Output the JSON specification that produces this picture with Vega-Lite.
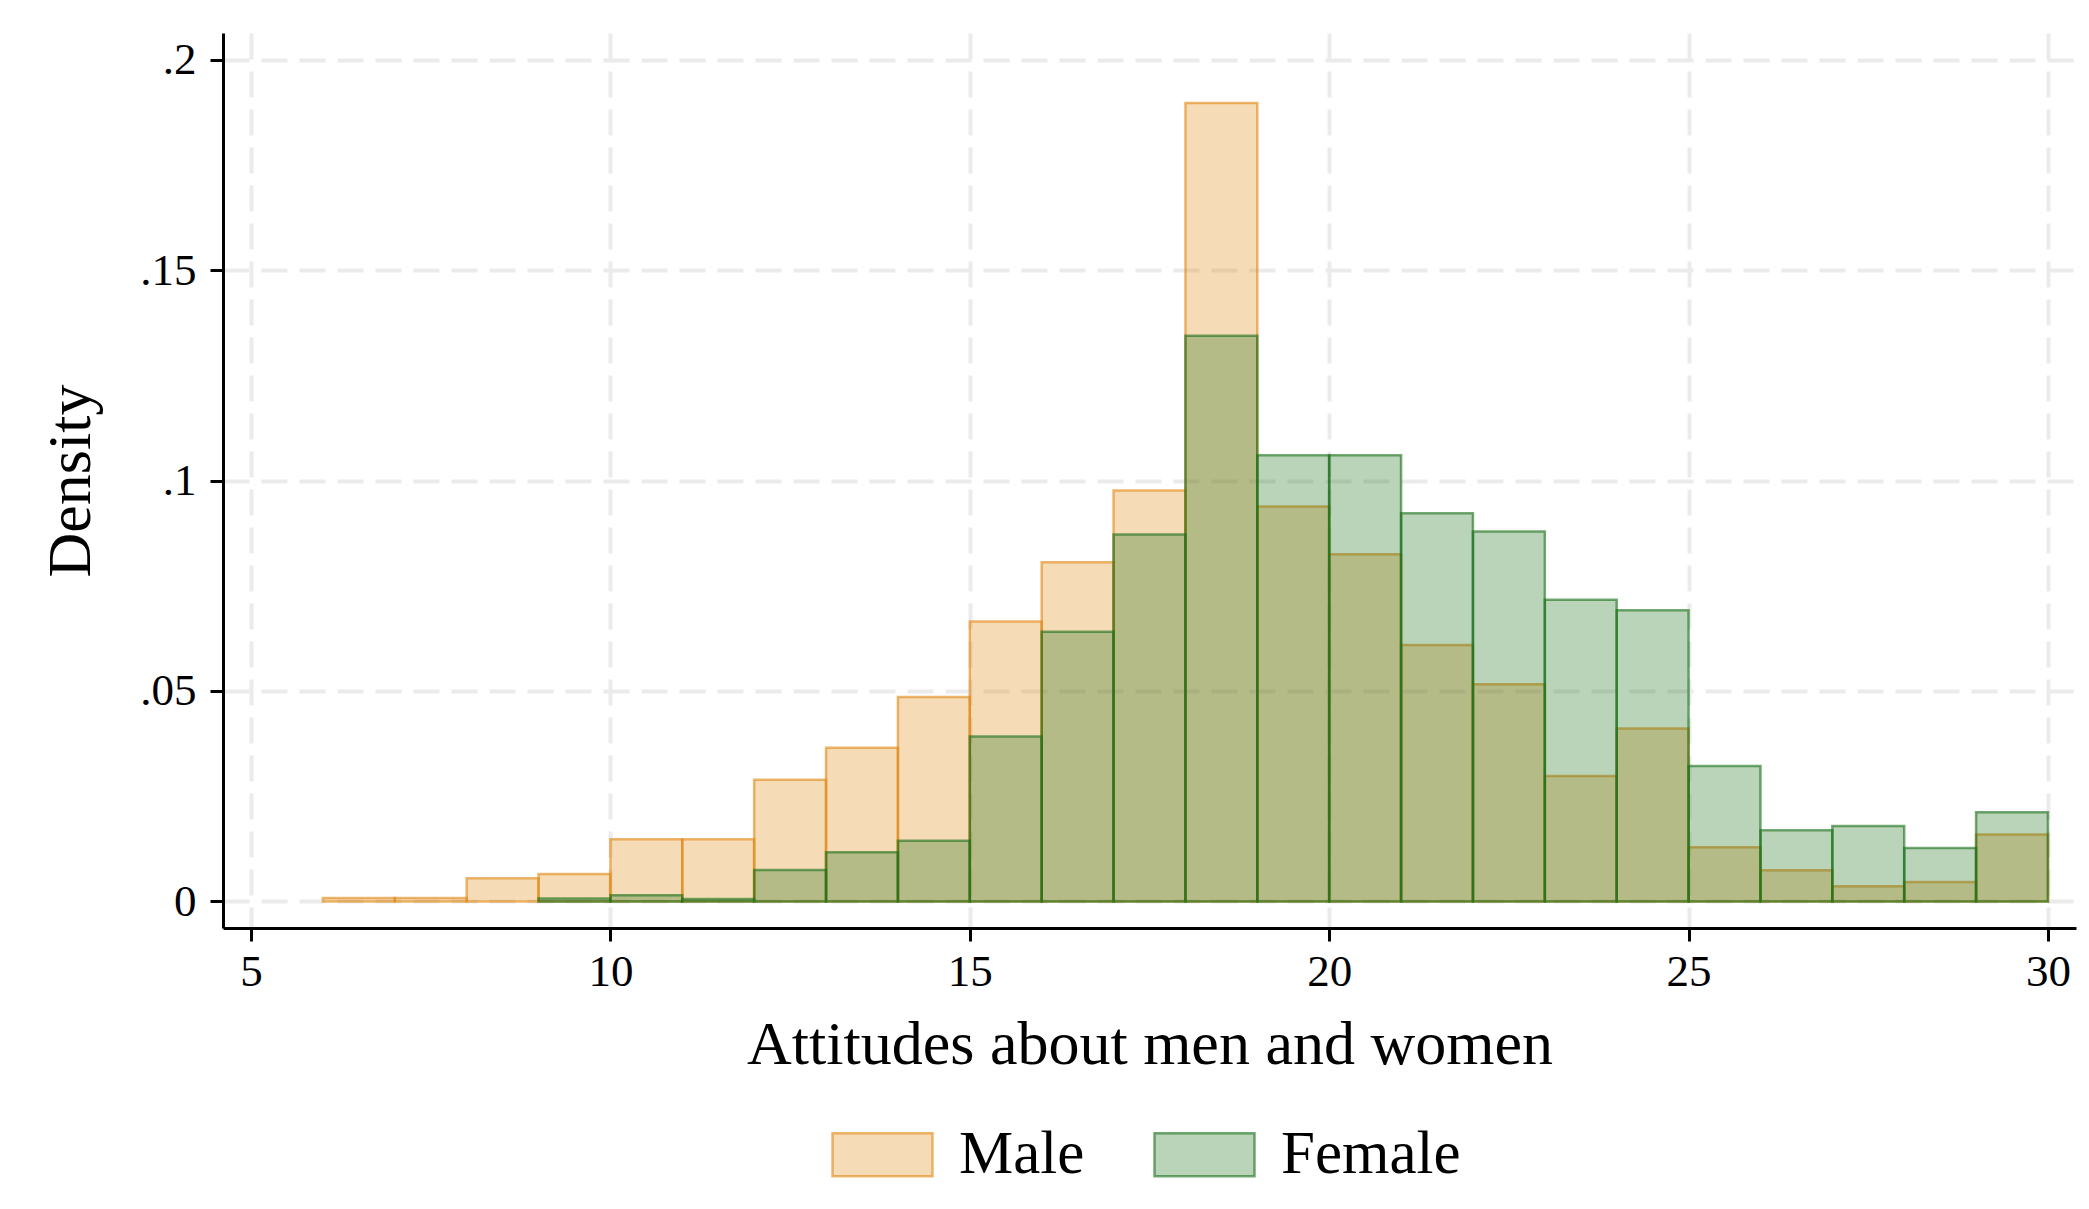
{
  "$schema": "https://vega.github.io/schema/vega-lite/v6.json",
  "autosize": {"type": "none"},
  "width": 1853,
  "height": 895,
  "padding": {"left": 223, "top": 33, "right": 13, "bottom": 281},
  "background": "white",
  "config": {
    "view": {"stroke": null},
    "font": "Liberation Serif",
    "axis": {
      "labelFont": "Liberation Serif",
      "titleFont": "Liberation Serif",
      "labelColor": "black",
      "titleColor": "black",
      "labelFontSize": 45,
      "titleFontSize": 62,
      "titleFontWeight": "normal",
      "domainColor": "black",
      "domainWidth": 3,
      "tickColor": "black",
      "tickWidth": 3,
      "tickSize": 13,
      "gridColor": "#EBEBEB",
      "gridWidth": 4,
      "gridDash": [26, 12]
    },
    "legend": {
      "labelFont": "Liberation Serif",
      "labelFontSize": 61,
      "labelColor": "black",
      "labelLimit": 0
    }
  },
  "data": {
    "values": [
      {"sex": "Male", "start": 6, "end": 7, "density": 0.0008},
      {"sex": "Male", "start": 7, "end": 8, "density": 0.0008},
      {"sex": "Male", "start": 8, "end": 9, "density": 0.0055},
      {"sex": "Male", "start": 9, "end": 10, "density": 0.0065},
      {"sex": "Male", "start": 10, "end": 11, "density": 0.0148},
      {"sex": "Male", "start": 11, "end": 12, "density": 0.0148},
      {"sex": "Male", "start": 12, "end": 13, "density": 0.0289},
      {"sex": "Male", "start": 13, "end": 14, "density": 0.0365},
      {"sex": "Male", "start": 14, "end": 15, "density": 0.0486},
      {"sex": "Male", "start": 15, "end": 16, "density": 0.0665},
      {"sex": "Male", "start": 16, "end": 17, "density": 0.0806},
      {"sex": "Male", "start": 17, "end": 18, "density": 0.0976},
      {"sex": "Male", "start": 18, "end": 19, "density": 0.1897},
      {"sex": "Male", "start": 19, "end": 20, "density": 0.0938},
      {"sex": "Male", "start": 20, "end": 21, "density": 0.0825},
      {"sex": "Male", "start": 21, "end": 22, "density": 0.0609},
      {"sex": "Male", "start": 22, "end": 23, "density": 0.0516},
      {"sex": "Male", "start": 23, "end": 24, "density": 0.0298},
      {"sex": "Male", "start": 24, "end": 25, "density": 0.0411},
      {"sex": "Male", "start": 25, "end": 26, "density": 0.0129},
      {"sex": "Male", "start": 26, "end": 27, "density": 0.0074},
      {"sex": "Male", "start": 27, "end": 28, "density": 0.0036},
      {"sex": "Male", "start": 28, "end": 29, "density": 0.0046},
      {"sex": "Male", "start": 29, "end": 30, "density": 0.0159},
      {"sex": "Female", "start": 9, "end": 10, "density": 0.0007},
      {"sex": "Female", "start": 10, "end": 11, "density": 0.0015},
      {"sex": "Female", "start": 11, "end": 12, "density": 0.0006},
      {"sex": "Female", "start": 12, "end": 13, "density": 0.0075},
      {"sex": "Female", "start": 13, "end": 14, "density": 0.0117},
      {"sex": "Female", "start": 14, "end": 15, "density": 0.0144},
      {"sex": "Female", "start": 15, "end": 16, "density": 0.0392},
      {"sex": "Female", "start": 16, "end": 17, "density": 0.0641},
      {"sex": "Female", "start": 17, "end": 18, "density": 0.0872},
      {"sex": "Female", "start": 18, "end": 19, "density": 0.1344},
      {"sex": "Female", "start": 19, "end": 20, "density": 0.106},
      {"sex": "Female", "start": 20, "end": 21, "density": 0.106},
      {"sex": "Female", "start": 21, "end": 22, "density": 0.0922},
      {"sex": "Female", "start": 22, "end": 23, "density": 0.0879},
      {"sex": "Female", "start": 23, "end": 24, "density": 0.0717},
      {"sex": "Female", "start": 24, "end": 25, "density": 0.0692},
      {"sex": "Female", "start": 25, "end": 26, "density": 0.0322},
      {"sex": "Female", "start": 26, "end": 27, "density": 0.0169},
      {"sex": "Female", "start": 27, "end": 28, "density": 0.0179},
      {"sex": "Female", "start": 28, "end": 29, "density": 0.0127},
      {"sex": "Female", "start": 29, "end": 30, "density": 0.0212}
    ]
  },
  "mark": {"type": "bar", "fillOpacity": 0.3, "strokeOpacity": 0.6, "strokeWidth": 2.5},
  "encoding": {
    "x": {
      "field": "start",
      "type": "quantitative",
      "scale": {"domain": [4.61, 30.39], "nice": false, "zero": false},
      "axis": {
        "values": [5, 10, 15, 20, 25, 30],
        "title": "Attitudes about men and women",
        "labelPadding": 8,
        "titleBaseline": "alphabetic",
        "titleY": 135,
        "labelFlush": false
      }
    },
    "x2": {"field": "end"},
    "y": {
      "field": "density",
      "type": "quantitative",
      "stack": null,
      "scale": {"domain": [-0.0063, 0.2063], "nice": false, "zero": false},
      "axis": {
        "values": [0, 0.05, 0.1, 0.15, 0.2],
        "title": "Density",
        "labelPadding": 14,
        "labelExpr": "datum.value == 0 ? '0' : replace(format(datum.value, '.2~f'), '0.', '.')",
        "titleBaseline": "alphabetic",
        "titleX": -134,
        "titleAngle": -90,
        "labelFlush": false
      }
    },
    "y2": {"datum": 0},
    "color": {
      "field": "sex",
      "type": "nominal",
      "scale": {"domain": ["Male", "Female"], "range": ["#E18712", "#197019"]},
      "legend": {
        "title": null,
        "orient": "none",
        "direction": "horizontal",
        "legendX": 608,
        "legendY": 1070,
        "padding": 0,
        "symbolType": "M-1,-0.43H1V0.43H-1Z",
        "symbolSize": 10000,
        "labelOffset": 25,
        "columnPadding": 64,
        "labelLimit": 0,
        "encode": {
          "symbols": {
            "update": {
              "fillOpacity": {"value": 0.3},
              "strokeOpacity": {"value": 0.6},
              "strokeWidth": {"value": 2.5},
              "stroke": {"scale": "color", "field": "value"},
              "fill": {"scale": "color", "field": "value"}
            }
          }
        }
      }
    },
    "stroke": {
      "field": "sex",
      "type": "nominal",
      "scale": {"domain": ["Male", "Female"], "range": ["#E18712", "#197019"]},
      "legend": null
    }
  }
}
